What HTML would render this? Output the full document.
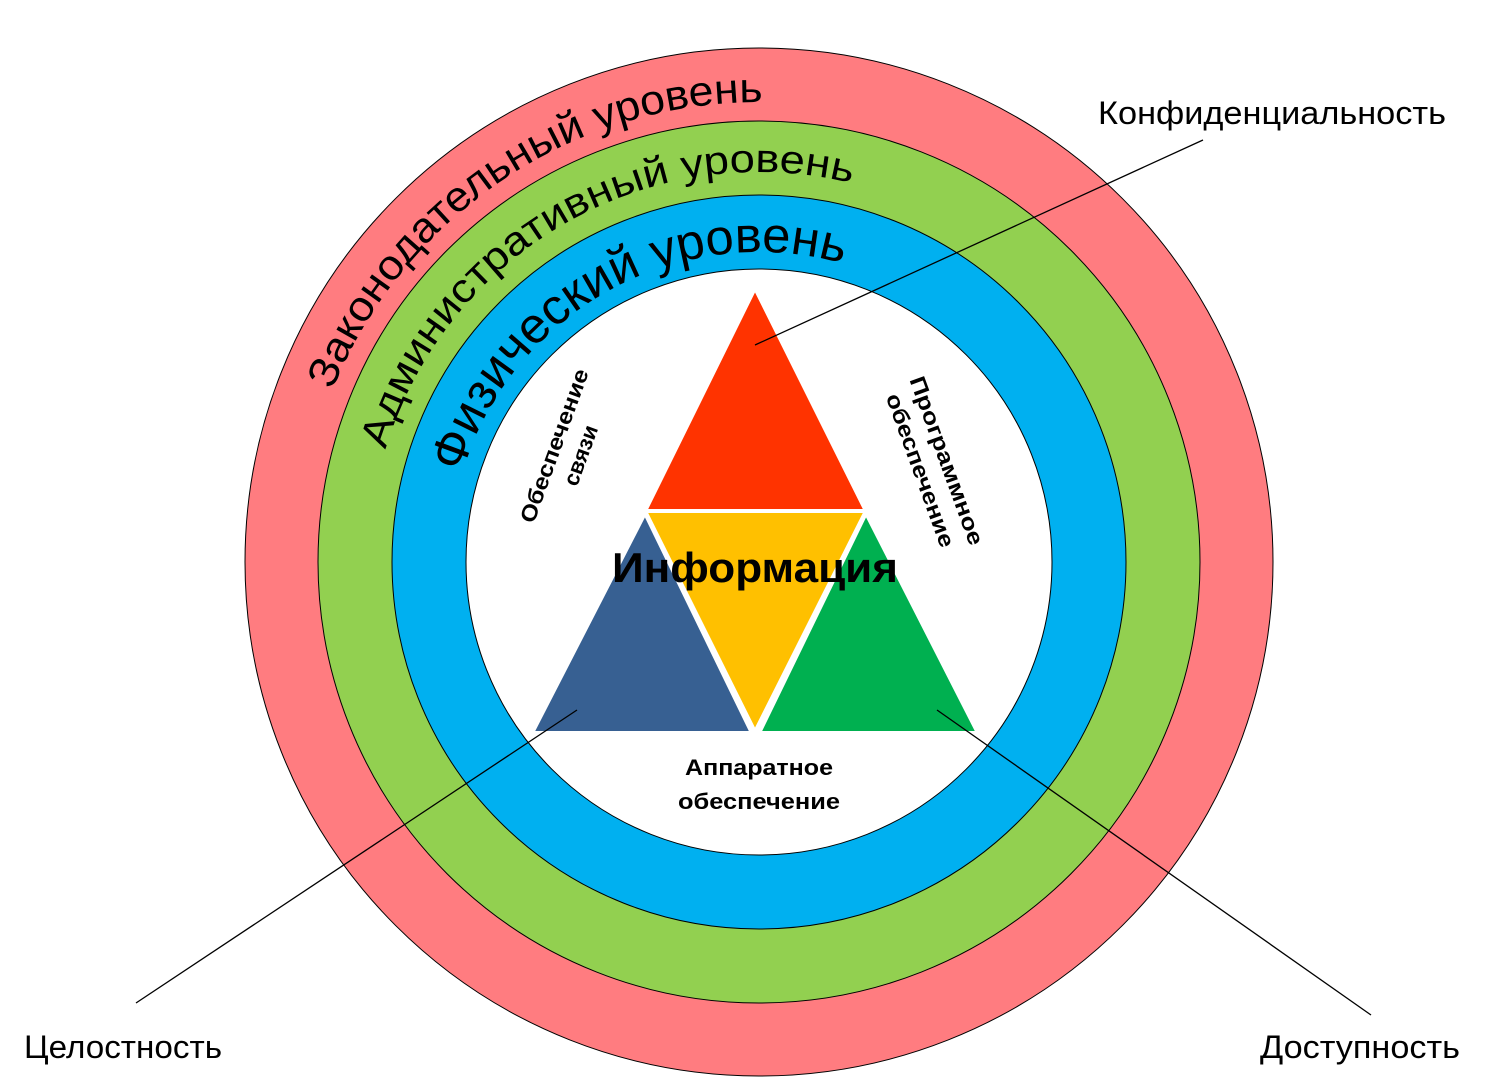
<!DOCTYPE html>
<html><head><meta charset="utf-8"><style>html,body{margin:0;padding:0;background:#fff}svg{display:block}</style></head>
<body>
<svg width="1497" height="1091" viewBox="0 0 1497 1091" xmlns="http://www.w3.org/2000/svg" font-family="'Liberation Sans', 'DejaVu Sans', sans-serif">
<defs>
<path id="pr" d="M 299 562 A 460 460 0 0 1 1219 562"/>
<path id="pg" d="M 369 562 A 390 390 0 0 1 1149 562"/>
<path id="pb" d="M 449 562 A 310 310 0 0 1 1069 562"/>
</defs>
<circle cx="759" cy="562" r="514" fill="#ff7c80" stroke="#000" stroke-width="1"/>
<circle cx="759" cy="562" r="441" fill="#92d050" stroke="#000" stroke-width="1"/>
<circle cx="759" cy="562" r="367" fill="#00b0f0" stroke="#000" stroke-width="1"/>
<circle cx="759" cy="562" r="293" fill="#fff" stroke="#000" stroke-width="1"/>
<text font-size="42" fill="#000"><textPath href="#pr" startOffset="176" textLength="550" lengthAdjust="spacingAndGlyphs">Законодательный уровень</textPath></text>
<text font-size="40" fill="#000"><textPath href="#pg" startOffset="114" textLength="592" lengthAdjust="spacingAndGlyphs">Административный уровень</textPath></text>
<text font-size="50" fill="#000"><textPath href="#pb" startOffset="90" textLength="482" lengthAdjust="spacingAndGlyphs">Физический уровень</textPath></text>
<g stroke="#fff" stroke-width="4" stroke-linejoin="round">
<polygon points="755,288 645,511 866,511" fill="#ff3300"/>
<polygon points="532,733 645,513 752,733" fill="#376092"/>
<polygon points="759,733 866,513 978,733" fill="#00b050"/>
<polygon points="645,511 866,511 755,732" fill="#ffc000"/>
</g>
<text x="612" y="582" font-size="42" font-weight="bold" textLength="286" lengthAdjust="spacingAndGlyphs">Информация</text>
<text x="685" y="775" font-size="22" font-weight="bold" textLength="148" lengthAdjust="spacingAndGlyphs">Аппаратное</text>
<text x="678" y="809" font-size="22" font-weight="bold" textLength="162" lengthAdjust="spacingAndGlyphs">обеспечение</text>
<g transform="translate(566,450) rotate(-70)" font-size="22" font-weight="bold" text-anchor="middle">
<text x="0" y="-5" textLength="162" lengthAdjust="spacingAndGlyphs">Обеспечение</text><text x="0" y="23">связи</text></g>
<g transform="translate(935,465) rotate(70)" font-size="22" font-weight="bold" text-anchor="middle">
<text x="0" y="-5" textLength="178" lengthAdjust="spacingAndGlyphs">Программное</text><text x="0" y="23" textLength="162" lengthAdjust="spacingAndGlyphs">обеспечение</text></g>
<g stroke="#000" stroke-width="1.3">
<line x1="755" y1="345" x2="1203" y2="140"/>
<line x1="577" y1="710" x2="136" y2="1003"/>
<line x1="937" y1="710" x2="1371" y2="1015"/>
</g>
<text x="1098" y="124" font-size="32" textLength="348" lengthAdjust="spacingAndGlyphs">Конфиденциальность</text>
<text x="24" y="1058" font-size="32" textLength="198" lengthAdjust="spacingAndGlyphs">Целостность</text>
<text x="1260" y="1058" font-size="32" textLength="200" lengthAdjust="spacingAndGlyphs">Доступность</text>
</svg>
</body></html>
